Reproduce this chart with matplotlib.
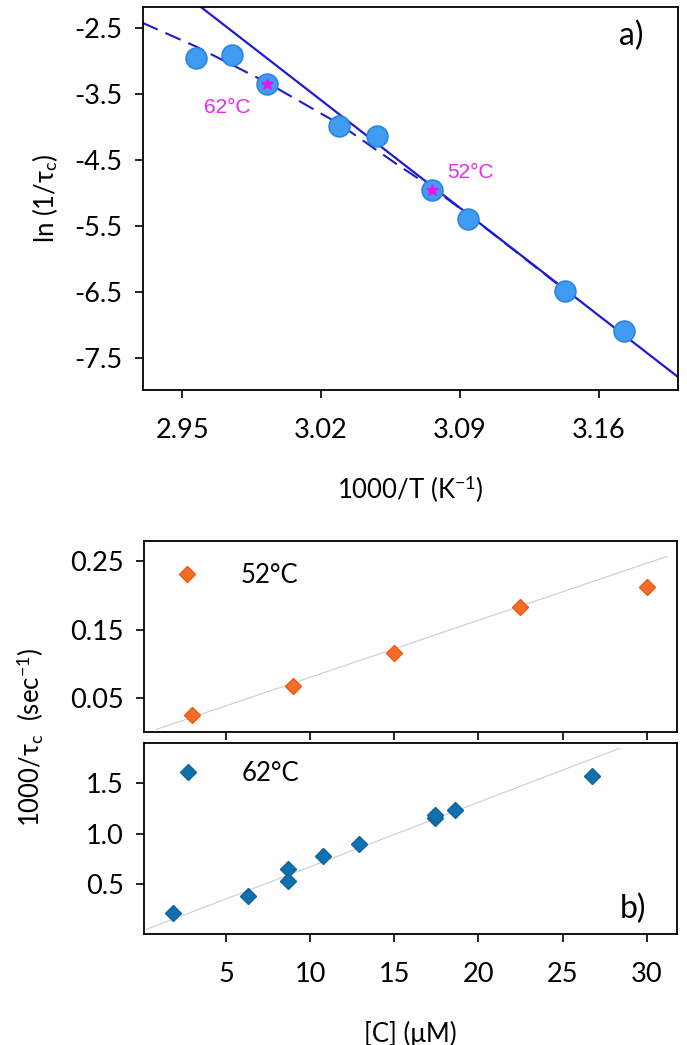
import matplotlib
matplotlib.use('Agg')
import matplotlib.pyplot as plt

plt.rcParams['font.family'] = ['Lato', 'DejaVu Sans']
plt.rcParams['mathtext.fontset'] = 'custom'
plt.rcParams['mathtext.rm'] = 'Lato'
plt.rcParams['mathtext.it'] = 'Lato:italic'
plt.rcParams['axes.unicode_minus'] = False

# panel a: ln(1/tau) vs 1000/T
inv_T = [2.957, 2.975, 2.993, 3.029, 3.048, 3.076, 3.094, 3.143, 3.173]
ln_rate = [-2.96, -2.91, -3.35, -3.98, -4.14, -4.95, -5.39, -6.49, -7.10]
star_idx = [2, 5]
star_labels = ['62°C', '52°C']
star_lab_x = [2.9728, 3.0954]
star_lab_y = [-3.71, -4.69]

solid_x = [2.956, 3.200]
solid_y = [-2.10, -7.79]
dash_x = [2.930, 2.957, 2.993, 3.029, 3.059, 3.076, 3.094, 3.143]
dash_y = [-2.42, -2.78, -3.33, -3.95, -4.58, -4.92, -5.32, -6.47]

a_xticks = [2.95, 3.02, 3.09, 3.16]
a_yticks = [-2.5, -3.5, -4.5, -5.5, -6.5, -7.5]

# panel b: 1000/tau vs concentration
conc_52 = [3.0, 9.0, 15.0, 22.5, 30.0]
rate_52 = [0.025, 0.0675, 0.115, 0.1825, 0.212]
fit52_x = [0.84, 31.2]
fit52_y = [0.0036, 0.257]

conc_62 = [1.83, 6.33, 8.71, 8.71, 10.79, 12.88, 17.41, 17.41, 18.6, 26.74]
rate_62 = [0.215, 0.381, 0.646, 0.533, 0.778, 0.894, 1.152, 1.18, 1.235, 1.566]
fit62_x = [0.29, 28.38]
fit62_y = [0.054, 1.844]

b_xticks = [5, 10, 15, 20, 25, 30]
b1_yticks = [0.05, 0.15, 0.25]
b2_yticks = [0.5, 1.0, 1.5]

W, H = 687, 1045
fig = plt.figure(figsize=(W / 100, H / 100), dpi=100)


def frac(l, t, r, b):
    return [l / W, 1 - b / H, (r - l) / W, (b - t) / H]


def style(ax, xpad=15, ypad=9):
    for s in ax.spines.values():
        s.set_linewidth(1.3)
    ax.tick_params(direction='out', length=5.5, width=1.2, labelsize=19.5)
    ax.tick_params(axis='x', pad=xpad)
    ax.tick_params(axis='y', pad=ypad)


line_blue = '#1c1cd6'

ax = fig.add_axes(frac(142.5, 7, 678, 389.5))
ax.plot(solid_x, solid_y, color=line_blue, lw=1.6, zorder=2)
ax.plot(dash_x, dash_y, color=line_blue, lw=1.5, ls=(0, (8, 4)), zorder=2)
ax.plot(inv_T, ln_rate, 'o', ms=15, mfc='#3f9cf2', mec='#2f84de', mew=1.2, zorder=3)
ax.plot([inv_T[i] for i in star_idx], [ln_rate[i] for i in star_idx], '*',
        ms=9, color='#f010f0', zorder=4)
for t, x, y in zip(star_labels, star_lab_x, star_lab_y):
    ax.text(x, y, t, color='#e829e8', fontsize=15, ha='center', va='center',
            family=['Liberation Sans', 'DejaVu Sans'])
ax.set_xlim(2.93, 3.20)
ax.set_ylim(-7.98, -2.18)
ax.set_xticks(a_xticks)
ax.set_xticklabels(['%.2f' % v for v in a_xticks])
ax.set_yticks(a_yticks)
ax.set_yticklabels(['%.1f' % v for v in a_yticks])
style(ax)
ax.set_xlabel('1000/T (K$^{-1}$)', fontsize=18.5, labelpad=22)
ax.set_ylabel('ln (1/τ$_{\\rm c}$)', fontsize=18.5, labelpad=10)
ax.text(0.935, 0.925, 'a)', transform=ax.transAxes, fontsize=23,
        ha='right', va='center')

ax1 = fig.add_axes(frac(144, 540.7, 677, 732))
ax1.plot(fit52_x, fit52_y, color='#cccccc', lw=0.8, zorder=1)
ax1.plot(conc_52, rate_52, 'D', ms=8, mfc='#f76d28', mec='#e65c14', mew=1,
         label='52°C', zorder=3)
ax1.set_xlim(0.13, 31.8)
ax1.set_ylim(0.0, 0.28)
ax1.set_xticks(b_xticks)
ax1.set_xticklabels([])
ax1.set_yticks(b1_yticks)
ax1.set_yticklabels(['%.2f' % v for v in b1_yticks])
style(ax1)
ax1.legend(loc='center left', bbox_to_anchor=(0.013, 0.82), frameon=False,
           fontsize=18.5, handlelength=1.0, handletextpad=1.6, borderpad=0.4)

ax2 = fig.add_axes(frac(144, 742.7, 677, 933.7))
ax2.plot(fit62_x, fit62_y, color='#cccccc', lw=0.8, zorder=1)
ax2.plot(conc_62, rate_62, 'D', ms=8, mfc='#1170ae', mec='#0f64a0', mew=1,
         label='62°C', zorder=3)
ax2.set_xlim(0.13, 31.8)
ax2.set_ylim(0.01, 1.9)
ax2.set_xticks(b_xticks)
ax2.set_xticklabels([str(v) for v in b_xticks])
ax2.set_yticks(b2_yticks)
ax2.set_yticklabels(['%.1f' % v for v in b2_yticks])
style(ax2)
ax2.legend(loc='center left', bbox_to_anchor=(0.015, 0.84), frameon=False,
           fontsize=18.5, handlelength=1.0, handletextpad=1.6, borderpad=0.4)
ax2.set_xlabel('[C] (μM)', fontsize=18.5, labelpad=24)
ax2.text(0.942, 0.131, 'b)', transform=ax2.transAxes, fontsize=23,
         ha='right', va='center')

fig.text(30 / W, 1 - 737 / H, '1000/τ$_{\\rm c}$  (sec$^{-1}$)', fontsize=18.5,
         rotation=90, ha='center', va='center')

fig.savefig('out.png', dpi=100)
